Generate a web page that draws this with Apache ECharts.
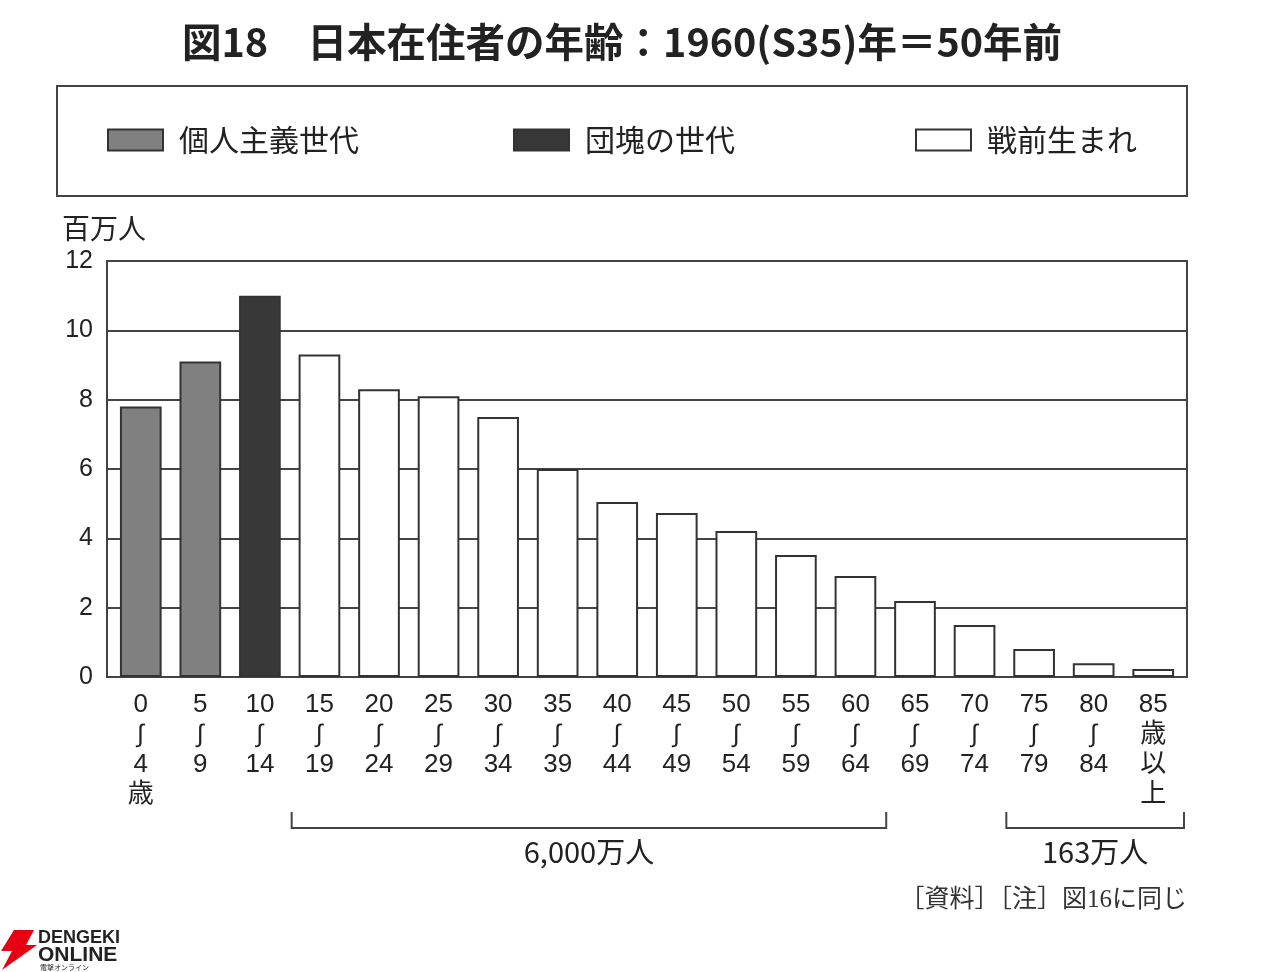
<!DOCTYPE html>
<html><head><meta charset="utf-8">
<script src="https://cdn.jsdelivr.net/npm/echarts@6/dist/echarts.min.js"></script>
<style>html,body{margin:0;padding:0;background:#fff}#c{width:1280px;height:972px}</style>
</head><body><div id="c"></div>
<script>
const titleText = '図18　日本在住者の年齢：1960(S35)年＝50年前';
const categories = ['0\n∫\n4\n歳','5\n∫\n9','10\n∫\n14','15\n∫\n19','20\n∫\n24','25\n∫\n29','30\n∫\n34','35\n∫\n39','40\n∫\n44','45\n∫\n49','50\n∫\n54','55\n∫\n59','60\n∫\n64','65\n∫\n69','70\n∫\n74','75\n∫\n79','80\n∫\n84','85\n歳\n以\n上'];
const values = [7.8, 9.1, 11.0, 9.3, 8.3, 8.1, 7.5, 6.0, 5.05, 4.73, 4.21, 3.52, 2.91, 2.19, 1.5, 0.81, 0.4, 0.23];
const groupOf = [0, 0, 1, 2, 2, 2, 2, 2, 2, 2, 2, 2, 2, 2, 2, 2, 2, 2];
const seriesNames = ['個人主義世代', '団塊の世代', '戦前生まれ'];
const seriesColors = ['#808080', '#383838', '#ffffff'];
const yMax = 12, yInterval = 2;
const yUnit = '百万人';
const brackets = [{from: 3, to: 12, label: '6,000万人'}, {from: 15, to: 17, label: '163万人'}];
const sourceText = '［資料］［注］図16に同じ';

const FONT = '"Noto Sans CJK JP","Liberation Sans",sans-serif';
const LAT = '"Liberation Sans","Noto Sans CJK JP",sans-serif';
const chart = echarts.init(document.getElementById('c'), null, {renderer: 'canvas'});
const legendLeft = [107, 513, 915];

const option = {
  backgroundColor: '#fff',
  animation: false,
  textStyle: {fontFamily: FONT},
  title: {text: titleText, left: 177, top: 17,
    textStyle: {fontSize: 39.5, fontWeight: 'bold', color: '#222', fontFamily: FONT}},
  legend: seriesNames.map((n, i) => ({
    data: [n], left: legendLeft[i], top: 125, icon: 'rect', padding: 0,
    itemWidth: 55, itemHeight: 21,
    textStyle: {fontSize: 30, color: '#222', fontFamily: FONT, padding: [0, 0, 0, 11]}
  })),
  grid: [
    {left: 111, right: 97, top: 261, bottom: 295},
    {left: 107, right: 93, top: 261, bottom: 295, show: true, borderColor: '#444', borderWidth: 2, backgroundColor: 'transparent'}
  ],
  xAxis: [
    {type: 'category', gridIndex: 0, data: categories,
      axisLine: {show: false}, axisTick: {show: false},
      axisLabel: {interval: 0, margin: 13, color: '#222', verticalAlign: 'top',
        formatter: v => v.split('\n').map(l => l === '∫' ? '{w|∫}' : '{n|' + l + '}').join('\n'),
        rich: {
          n: {fontSize: 26, lineHeight: 30, fontFamily: LAT, color: '#222'},
          w: {fontSize: 25, lineHeight: 30, fontFamily: '"Liberation Sans",sans-serif', color: '#222'}
        }}},
    {type: 'value', gridIndex: 1, show: false, min: 0, max: 1}
  ],
  yAxis: [
    {type: 'value', gridIndex: 0, min: 0, max: yMax, interval: yInterval, show: false},
    {type: 'value', gridIndex: 1, min: 0, max: yMax, interval: yInterval,
      axisLine: {show: false}, axisTick: {show: false},
      axisLabel: {fontSize: 25, color: '#222', margin: 14, fontFamily: LAT},
      splitLine: {lineStyle: {color: '#444', width: 2}}}
  ],
  series: seriesNames.map((n, s) => ({
    name: n, type: 'bar', stack: 'all', barWidth: '70%', xAxisIndex: 0, yAxisIndex: 0,
    itemStyle: {color: seriesColors[s], borderColor: '#333', borderWidth: 2},
    data: values.map((v, i) => groupOf[i] === s ? v : '-')
  }))
};
chart.setOption(option);

function drawExtras() {
  const c0 = chart.convertToPixel({xAxisIndex: 0}, 0);
  const c1 = chart.convertToPixel({xAxisIndex: 0}, 1);
  const bw = c1 - c0;
  const g = [];
  g.push({type: 'rect', shape: {x: 57, y: 86, width: 1130, height: 110},
    style: {fill: 'none', stroke: '#444', lineWidth: 2}});
  g.push({type: 'text', x: 62, y: 228,
    style: {text: yUnit, font: '28px ' + FONT, fill: '#222', verticalAlign: 'middle'}});
  brackets.forEach(b => {
    const x1 = chart.convertToPixel({xAxisIndex: 0}, b.from) - bw / 2 + 2;
    const x2 = chart.convertToPixel({xAxisIndex: 0}, b.to) + bw / 2 + 1;
    const yb = 828, yt = 812;
    g.push({type: 'polyline', shape: {points: [[x1, yt], [x1, yb], [x2, yb], [x2, yt]]},
      style: {stroke: '#444', lineWidth: 2, fill: 'none'}});
    g.push({type: 'text', x: (x1 + x2) / 2, y: 852,
      style: {text: b.label, font: '29px ' + FONT, fill: '#222', align: 'center', verticalAlign: 'middle'}});
  });
  g.push({type: 'text', x: 1187, y: 900,
    style: {text: sourceText, font: '25px "Liberation Serif","Noto Sans CJK JP",serif', fill: '#333', align: 'right', verticalAlign: 'middle'}});
  // logo
  g.push({type: 'polygon', shape: {points: [[14, 930], [34, 930], [26, 945], [37, 945], [2, 970], [12, 951], [1, 951]]},
    style: {fill: '#e60012'}});
  g.push({type: 'text', x: 38, y: 938, style: {text: 'DENGEKI', font: 'bold 18px "Liberation Sans",sans-serif', fill: '#222', verticalAlign: 'middle'}});
  g.push({type: 'text', x: 38, y: 955, style: {text: 'ONLINE', font: 'bold 21px "Liberation Sans",sans-serif', fill: '#222', verticalAlign: 'middle'}});
  g.push({type: 'text', x: 40, y: 967, style: {text: '電撃オンライン', font: '7px ' + FONT, fill: '#222', verticalAlign: 'middle'}});
  chart.setOption({graphic: g});
}
drawExtras();
</script></body></html>
